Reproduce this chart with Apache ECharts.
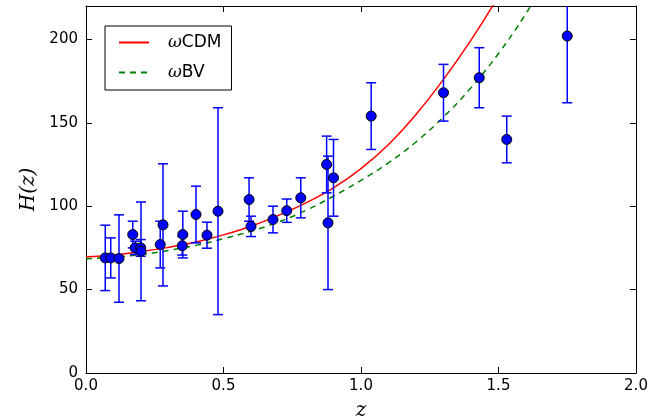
<!DOCTYPE html>
<html lang="en">
<head>
	<meta charset="UTF-8">
	<title>H(z)</title>
	<style type="text/css">
	body{margin: 0;padding:0;background:#fff;}
	#main{width:671px;height:420px;}
	</style>
</head>
<body>
	<div id="main"></div>

	<script src="https://cdn.jsdelivr.net/npm/echarts@6/dist/echarts.min.js"></script>
	<script>
		// observed H(z) points: redshift, value, 1-sigma error
		var zObs = [0.07, 0.09, 0.12, 0.17, 0.179, 0.199, 0.2, 0.27, 0.28, 0.35, 0.352, 0.4, 0.44, 0.48,
			0.593, 0.6, 0.68, 0.73, 0.781, 0.875, 0.88, 0.9, 1.037, 1.3, 1.43, 1.53, 1.75];
		var hObs = [69, 69, 68.6, 83, 75, 75, 72.9, 77, 88.8, 76.3, 83, 95, 82.6, 97,
			104, 87.9, 92, 97.3, 105, 125, 90, 117, 154, 168, 177, 140, 202];
		var hErr = [19.6, 12, 26.2, 8, 4, 5, 29.6, 14, 36.6, 5.6, 14, 17, 7.8, 62,
			13, 6.1, 8, 7, 12, 17, 40, 23, 20, 17, 18, 14, 40];

		// model curves
		var zModel = [0, 0.1, 0.2, 0.3, 0.4, 0.5, 0.6, 0.7, 0.8, 0.9, 1.0, 1.1, 1.2, 1.3, 1.4, 1.5, 1.6, 1.7];
		var hCDM = [69.7, 70.8, 72.8, 75.3, 78.5, 82.8, 88, 94.5, 102, 111, 122.5, 137, 155, 176, 199.5, 226, 256, 290];
		var hBV = [68.5, 69.5, 71, 73.5, 76.5, 80.5, 85, 90.5, 97.5, 106, 115.5, 126, 138.5, 153.5, 171, 191.5, 215.5, 243];

		var xTicks = [0, 0.5, 1.0, 1.5, 2.0];
		var yTicks = [0, 50, 100, 150, 200];

		var myChart = echarts.init(document.getElementById('main'));

		function pairs(xs, ys){
			var out = [];
			for(var i=0;i<xs.length;i++){ out.push([xs[i], ys[i]]); }
			return out;
		}
		var obsData = [];
		for(var i=0;i<zObs.length;i++){ obsData.push([zObs[i], hObs[i], hErr[i]]); }

		var font = 'DejaVu Sans';
		var axisCommon = {
			axisLine:{show:true, onZero:false, lineStyle:{color:'#000', width:1}},
			axisTick:{show:true, inside:true, length:6, lineStyle:{color:'#000', width:1}},
			splitLine:{show:false}
		};

		var option = {
			animation:false,
			backgroundColor:'#fff',
			grid:{left:86, right:35, top:6, bottom:47, containLabel:false, outerBoundsMode:'none'},
			legend:{
				left:105, top:26,
				orient:'vertical',
				padding:[8,10,9,13],
				itemWidth:30, itemHeight:14, itemGap:13,
				borderColor:'#000', borderWidth:1, borderRadius:0,
				backgroundColor:'#fff',
				itemStyle:{opacity:0},
				data:[{name:'ωCDM'},{name:'ωBV'}],
				formatter:function(name){ return '{w|ω}' + name.slice(1); },
				textStyle:{
					fontFamily:font, fontSize:17, color:'#000', padding:[0,0,0,14],
					rich:{w:{fontFamily:'DejaVu Serif', fontStyle:'italic', fontSize:17, color:'#000'}}
				}
			},
			xAxis:[
				Object.assign({
					type:'value', min:0, max:2, interval:0.5, position:'bottom',
					name:'z', nameLocation:'middle', nameGap:28,
					nameTextStyle:{fontFamily:'DejaVu Serif', fontStyle:'italic', fontSize:20, color:'#000'},
					axisLabel:{fontFamily:font, fontSize:15, color:'#000', margin:6,
						formatter:function(v){ return v.toFixed(1); }}
				}, axisCommon),
				Object.assign({
					type:'value', min:0, max:2, interval:0.5, position:'top',
					axisLabel:{show:false}
				}, axisCommon)
			],
			yAxis:[
				Object.assign({
					type:'value', min:0, max:220, interval:50, position:'left',
					name:'H(z)', nameLocation:'middle', nameGap:47, nameRotate:90,
					nameTextStyle:{fontFamily:'DejaVu Serif', fontStyle:'italic', fontSize:20, color:'#000'},
					axisLabel:{fontFamily:font, fontSize:15, color:'#000', margin:8, showMaxLabel:false,
						formatter:function(v){ return yTicks.indexOf(v) >= 0 ? String(v) : ''; }}
				}, axisCommon),
				Object.assign({
					type:'value', min:0, max:220, interval:50, position:'right',
					axisLabel:{show:false}
				}, axisCommon)
			],
			series:[
				{
					name:'ωCDM', type:'line', data:pairs(zModel, hCDM),
					showSymbol:false, symbol:'none', smooth:0.4, clip:true,
					lineStyle:{color:'#ff0000', width:1.5},
					itemStyle:{color:'#ff0000'}, z:2
				},
				{
					name:'ωBV', type:'line', data:pairs(zModel, hBV),
					showSymbol:false, symbol:'none', smooth:0.4, clip:true,
					lineStyle:{color:'#008000', width:1.5, type:[6,5]},
					itemStyle:{color:'#008000'}, z:2
				},
				{
					name:'err', type:'custom', data:obsData, clip:true, z:3,
					renderItem:function(params, api){
						var x = api.value(0), y = api.value(1), e = api.value(2);
						var top = api.coord([x, y + e]);
						var bot = api.coord([x, y - e]);
						var cw = 5;
						var st = {stroke:'#0000ff', lineWidth:1.5};
						return {type:'group', children:[
							{type:'line', shape:{x1:top[0], y1:top[1], x2:bot[0], y2:bot[1]}, style:st},
							{type:'line', shape:{x1:top[0]-cw, y1:top[1], x2:top[0]+cw, y2:top[1]}, style:st},
							{type:'line', shape:{x1:bot[0]-cw, y1:bot[1], x2:bot[0]+cw, y2:bot[1]}, style:st}
						]};
					}
				},
				{
					name:'obs', type:'scatter', data:pairs(zObs, hObs), z:4,
					symbol:'circle', symbolSize:10,
					itemStyle:{color:'#0000ff', borderColor:'#000', borderWidth:1, opacity:1}
				}
			]
		};
		myChart.setOption(option);
	</script>
</body>
</html>
